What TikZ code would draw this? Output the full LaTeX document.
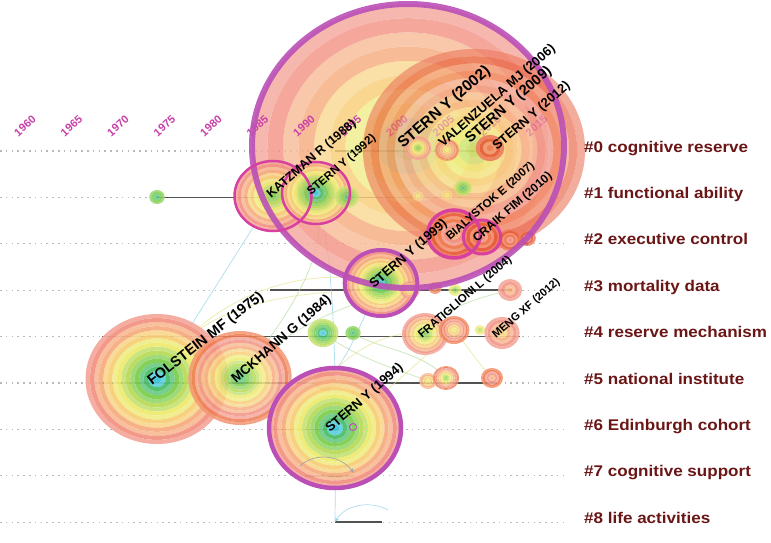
\documentclass[tikz,border=0pt]{standalone}
\usepackage{fontspec}
\setmainfont{Liberation Sans}
\newfontfamily\labfont[FakeStretch=1.1]{Liberation Sans}
\usetikzlibrary{arrows.meta}
\definecolor{pal1}{HTML}{3CC6D6}
\definecolor{pal2}{HTML}{4CBF6A}
\definecolor{pal3}{HTML}{7FCF4F}
\definecolor{pal4}{HTML}{B9DC5A}
\definecolor{pal5}{HTML}{EEEA70}
\definecolor{pal6}{HTML}{F8CF78}
\definecolor{pal7}{HTML}{F6AD80}
\definecolor{pal8}{HTML}{F29484}
\definecolor{pal9}{HTML}{F07A50}
\definecolor{pal10}{HTML}{E85A38}
\definecolor{mag}{HTML}{BB4FB6}
\definecolor{hotmag}{HTML}{D8409F}
\definecolor{yearcol}{HTML}{C93FA8}
\definecolor{clustcol}{HTML}{6B1616}
\definecolor{lblue}{HTML}{8CCFE8}
\definecolor{lyellow}{HTML}{E4E48A}
\definecolor{lgreen}{HTML}{B4DC9C}
% concentric citation rings: x y r(vertical) startcolour endcolour opacity
\newcommand\cnode[6]{%
  \pgfmathtruncatemacro\cnN{2*(#5-#4+1)}%
  \foreach \j in {1,...,\cnN}{%
    \pgfmathsetmacro\cnRo{#3*\j/\cnN}%
    \pgfmathsetmacro\cnRi{#3*(\j-1)/\cnN}%
    \pgfmathtruncatemacro\cnC{#4+floor((\j-1)/2)}%
    \pgfmathtruncatemacro\cnO{mod(\j,2)}%
    \ifnum\cnO=1 \edef\cnCol{pal\cnC}\else\edef\cnCol{pal\cnC!80!white}\fi
    \ifnum\j=1
      \fill[fill=\cnCol,fill opacity=#6] (#1,#2) ellipse [x radius=1.1*\cnRo, y radius=\cnRo];
    \else
      \fill[fill=\cnCol,fill opacity=#6,even odd rule] (#1,#2) ellipse [x radius=1.1*\cnRo, y radius=\cnRo] ellipse [x radius=1.1*\cnRi, y radius=\cnRi];
    \fi
  }}
\newcommand\cn[7]{\coordinate (#1) at (#2,#3); \cnode{#2}{#3}{#4}{#5}{#6}{#7}}
\begin{document}
\begin{tikzpicture}[x=1pt,y=-1pt,
  lane/.style={draw=gray!55, line width=1.2pt, dash pattern=on 1.6pt off 4.2pt},
  tline/.style={draw=black!68, line width=1.5pt},
  lk/.style={line width=0.7pt, draw opacity=0.7},
  yearlab/.style={font=\fontsize{11}{11}\selectfont\bfseries, text=yearcol, rotate=42, inner sep=0pt},
  cite/.style={rotate=41, anchor=base west, inner sep=0pt, text=black},
  clab/.style={font=\labfont\fontsize{15.5}{16}\selectfont\bfseries, text=clustcol, anchor=base west, inner sep=0pt}]
\useasboundingbox (0,0) rectangle (771,543);
\fill[white] (0,0) rectangle (771,543);
% lanes
\foreach \k in {0,...,8}{\draw[lane] (0,{151+46.4*\k}) -- (568,{151+46.4*\k});}
% timelines
\draw[tline] (335,151) -- (495,151);
\draw[tline] (157,197.4) -- (483,197.4);
\draw[tline] (420,243.8) -- (528,243.8);
\draw[tline] (270,290.2) -- (512,290.2);
\draw[tline] (102,336.6) -- (520,336.6);
\draw[tline] (95,383) -- (497,383);
\draw[tline] (273,429.4) -- (340,429.4);
% coordinates for nodes defined early for links
\coordinate (katz) at (273,196);
\coordinate (s1992) at (316,193);
\coordinate (s1999) at (381,283);
\coordinate (folstein) at (157,379);
\coordinate (mckhann) at (240,378);
\coordinate (s1994) at (335,428);
\coordinate (l7a) at (300,466);
\coordinate (l7b) at (354,473);
\coordinate (l8a) at (335,522.2);
\coordinate (l8b) at (382,522.2);
\coordinate (l8c) at (388,510);
\draw[tline] (305,475.8) -- (355,475.8);
\draw[tline] (l8a) -- (l8b);
% faint citation links
\draw[lk, lblue] (katz) -- (folstein);
\draw[lk, lblue] (s1992) .. controls (338,260) and (336,420) .. (l8a);
\draw[lk, lyellow] (folstein) .. controls (200,300) and (300,262) .. (s1999);
\draw[lk, lyellow] (folstein) .. controls (180,330) and (230,300) .. (330,292);
\draw[lk, lgreen] (mckhann) .. controls (280,330) and (350,300) .. (410,290);
\draw[lk, lgreen] (323,333) .. controls (360,360) and (400,370) .. (428,381);
\draw[lk, lgreen] (353,333) .. controls (380,350) and (420,350) .. (446,378);
\draw[lk, lyellow] (325,381) .. controls (360,340) and (400,330) .. (425,334);
\draw[lk, lgreen] (425,334) .. controls (440,310) and (470,300) .. (510,290);
\draw[lk, lyellow] (454,330) .. controls (470,350) and (480,365) .. (492,378);
\draw[lk, lblue] (s1999) .. controls (360,320) and (350,360) .. (325,381);
\draw[lk, lgreen] (mckhann) .. controls (300,300) and (330,250) .. (s1992);
\draw[lk, lyellow] (s1994) .. controls (380,400) and (420,360) .. (454,330);
\draw[lk, lblue, -{Stealth[length=5pt]}] (l8c) .. controls (370,500) and (345,505) .. (l8a);
% big circle (Stern 2002)
\cnode{408}{146}{142}{4}{8}{0.82}
% year labels
\foreach \k/\yr in {0/1960,1/1965,2/1970,3/1975,4/1980,5/1985,6/1990,7/1995,8/2000,9/2005,10/2010,11/2015}
  {\node[yearlab] (y\yr) at ({25+46.5*\k},126) {\yr};}
% Stern 2009
\cn{s2009}{474}{150}{101}{4}{10}{0.62}
% cluster 0 nodes
\cn{s2002}{418}{148}{12}{3}{8}{0.9}
\cn{val2006}{447}{150}{11}{5}{9}{0.85}
\cn{s2012}{490}{148}{13}{9}{10}{0.9}
% cluster 1
\cn{n75}{157}{197}{7}{2}{3}{0.9}
\cnode{273}{196}{35}{3}{8}{0.92}
\cnode{316}{193}{31}{1}{7}{0.92}
\cn{n1a}{347}{197}{11}{2}{4}{0.8}
\cn{n1b}{418}{196}{5}{5}{6}{0.8}
\cn{n1c}{447}{195}{5}{5}{6}{0.8}
\cn{n1d}{463}{188}{8}{2}{4}{0.85}
% cluster 2
\cn{bial}{454}{234}{24}{7}{10}{0.85}
\cn{craik}{482}{237}{17}{8}{10}{0.85}
\cn{n2a}{510}{240}{11}{8}{10}{0.85}
\cn{n2b}{527}{238}{8}{9}{10}{0.85}
% cluster 3
\cnode{381}{283}{33}{1}{8}{0.95}
\cn{n3a}{410}{290}{9}{4}{8}{0.85}
\cn{n3b}{435}{288}{6}{8}{9}{0.85}
\cn{n3c}{455}{290}{6}{3}{5}{0.85}
\cn{n3d}{510}{290}{11}{7}{8}{0.9}
% cluster 4
\cn{n4a}{323}{333}{14}{1}{4}{0.9}
\cn{n4b}{353}{333}{7}{2}{3}{0.9}
\cn{frat}{425}{334}{21}{3}{8}{0.9}
\cn{n4c}{454}{330}{14}{5}{9}{0.9}
\cn{n4d}{480}{330}{5}{4}{5}{0.85}
\cn{meng}{502}{333}{16}{6}{8}{0.9}
% cluster 5
\cnode{157}{379}{65}{1}{8}{0.95}
\cnode{240}{378}{47}{2}{9}{0.85}
\cn{n5a}{325}{381}{10}{6}{9}{0.9}
\cn{n5b}{343}{380}{5}{5}{6}{0.8}
\cn{n5c}{428}{381}{8}{5}{7}{0.9}
\cn{n5d}{446}{378}{12}{3}{9}{0.9}
\cn{n5e}{492}{378}{10}{7}{9}{0.9}
% cluster 6
\cnode{335}{428}{60}{1}{8}{0.95}
% gray arc in lane 7
\draw[line width=0.7pt, draw=gray!70, -{Stealth[length=5pt]}] (l7a) .. controls (315,452) and (340,455) .. (l7b);
% centrality rings
\draw[draw=mag, line width=6pt, draw opacity=0.9] (408,146) ellipse [x radius=156, y radius=142];
\draw[draw=hotmag, line width=2.5pt] (katz) ellipse [x radius=38.5, y radius=35];
\draw[draw=hotmag, line width=2.5pt] (s1992) ellipse [x radius=34, y radius=31];
\draw[draw=mag, line width=4pt] (s1999) ellipse [x radius=36.3, y radius=33];
\draw[draw=hotmag, line width=3.5pt] (bial) ellipse [x radius=26.4, y radius=24];
\draw[draw=hotmag, line width=3pt] (craik) ellipse [x radius=18.7, y radius=17];
\draw[draw=mag, line width=4.5pt] (s1994) ellipse [x radius=66, y radius=60];
\draw[draw=mag, line width=1pt] (353,427) circle [radius=3.5];
% citation labels
\node[cite, font=\fontsize{15.5}{16}\selectfont\bfseries] (ls2002) at (403,149) {STERN Y (2002)};
\node[cite, font=\fontsize{13}{14}\selectfont\bfseries] (lval) at (443,148) {VALENZUELA MJ (2006)};
\node[cite, font=\fontsize{14.5}{15}\selectfont\bfseries] (ls2009) at (470,144) {STERN Y (2009)};
\node[cite, font=\fontsize{13}{14}\selectfont\bfseries] (ls2012) at (497,151) {STERN Y (2012)};
\node[cite, font=\fontsize{12.5}{13}\selectfont\bfseries] (lkatz) at (271,199) {KATZMAN R (1988)};
\node[cite, font=\fontsize{11.5}{12}\selectfont\bfseries] (ls1992) at (311,196) {STERN Y (1992)};
\node[cite, font=\fontsize{13}{14}\selectfont\bfseries] (ls1999) at (374,289) {STERN Y (1999)};
\node[cite, font=\fontsize{11.5}{12}\selectfont\bfseries] (lbial) at (450,241) {BIALYSTOK E (2007)};
\node[cite, font=\fontsize{12}{13}\selectfont\bfseries] (lcraik) at (477,243) {CRAIK FIM (2010)};
\node[cite, font=\fontsize{11.5}{12}\selectfont\bfseries] (lfrat) at (422,339) {FRATIGLIONI L (2004)};
\node[cite, font=\fontsize{11}{12}\selectfont\bfseries] (lmeng) at (496,339) {MENG XF (2012)};
\node[cite, rotate=-3, font=\fontsize{14.5}{15}\selectfont\bfseries] (lfol) at (152,386) {FOLSTEIN MF (1975)};
\node[cite, font=\fontsize{13.5}{14}\selectfont\bfseries] (lmck) at (236,384) {MCKHANN G (1984)};
\node[cite, font=\fontsize{13}{14}\selectfont\bfseries] (ls1994) at (330,433) {STERN Y (1994)};
% cluster labels
\node[clab] (c0) at (584,152) {\#0 cognitive reserve};
\node[clab] (c1) at (584,198.4) {\#1 functional ability};
\node[clab] (c2) at (584,244.8) {\#2 executive control};
\node[clab] (c3) at (584,291.2) {\#3 mortality data};
\node[clab] (c4) at (584,337.6) {\#4 reserve mechanism};
\node[clab] (c5) at (584,384) {\#5 national institute};
\node[clab] (c6) at (584,430.4) {\#6 Edinburgh cohort};
\node[clab] (c7) at (584,476.8) {\#7 cognitive support};
\node[clab] (c8) at (584,523.2) {\#8 life activities};
\end{tikzpicture}
\end{document}
